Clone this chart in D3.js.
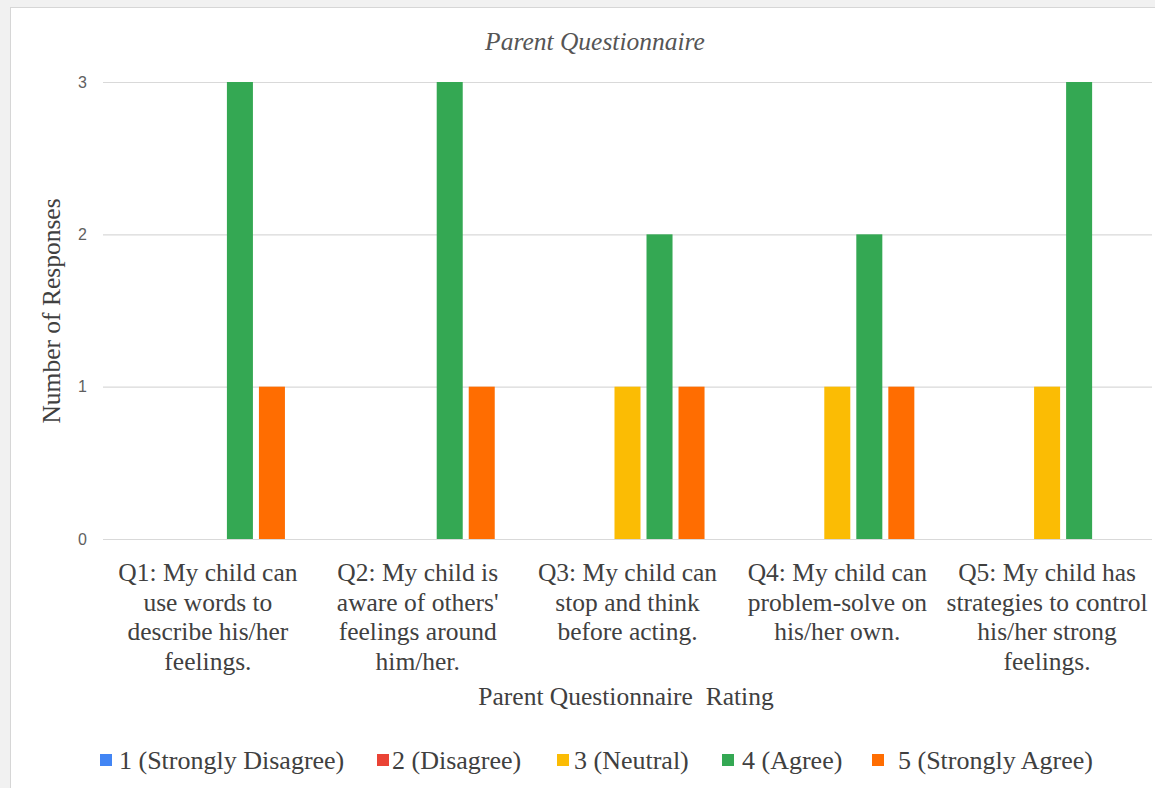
<!DOCTYPE html>
<html>
<head>
<meta charset="utf-8">
<script src="https://cdn.jsdelivr.net/npm/d3@7"></script>
<style>
  html, body { margin: 0; padding: 0; background: #f1f1f1; }
  svg { display: block; }
</style>
</head>
<body>
<svg id="chart" width="1155" height="788"></svg>
<script>
// Survey questions (x categories), each label split into its wrapped lines
const questions = ["Q1", "Q2", "Q3", "Q4", "Q5"];
const questionLines = [
  ["Q1: My child can", "use words to", "describe his/her", "feelings."],
  ["Q2: My child is", "aware of others'", "feelings around", "him/her."],
  ["Q3: My child can", "stop and think", "before acting."],
  ["Q4: My child can", "problem-solve on", "his/her own."],
  ["Q5: My child has", "strategies to control", "his/her strong", "feelings."]
];

// Rating series and their colours
const ratings = ["1 (Strongly Disagree)", "2 (Disagree)", "3 (Neutral)", "4 (Agree)", "5 (Strongly Agree)"];
const ratingColors = ["#4285F4", "#EA4335", "#FBBC04", "#34A853", "#FF6D01"];

// Number of responses per question, one array per rating
const stronglyDisagree = [0, 0, 0, 0, 0];
const disagree         = [0, 0, 0, 0, 0];
const neutral          = [0, 0, 1, 1, 1];
const agree            = [3, 3, 2, 2, 3];
const stronglyAgree    = [1, 1, 1, 1, 0];

const yTicks = [0, 1, 2, 3];

const seriesValues = [stronglyDisagree, disagree, neutral, agree, stronglyAgree];

const svg = d3.select("#chart");
const W = 1155, H = 788;

// card background
svg.append("rect").attr("x", 10.5).attr("y", 7.5).attr("width", W).attr("height", H)
  .attr("fill", "#ffffff").attr("stroke", "#d6d6d6").attr("stroke-width", 1);

const plot = { left: 103, right: 1152, top: 82, bottom: 539 };

const x0 = d3.scaleBand().domain(questions).range([plot.left, plot.right]).padding(0);
const bw = x0.bandwidth();
const groupW = bw * 0.763;
const x1 = d3.scaleBand().domain(ratings)
  .range([(bw - groupW) / 2, (bw + groupW) / 2])
  .paddingInner(0.1875).paddingOuter(0.09375);
const y = d3.scaleLinear().domain([0, 3]).range([plot.bottom, plot.top]);

// gridlines + tick labels
const yAxis = d3.axisLeft(y).tickValues(yTicks).tickFormat(d3.format("d"))
  .tickSize(-(plot.right - plot.left)).tickPadding(16);
const gy = svg.append("g").attr("transform", `translate(${plot.left},0)`).call(yAxis);
gy.select(".domain").remove();
gy.selectAll(".tick line").attr("stroke", "#d9d9d9").attr("stroke-width", 1.2);
gy.selectAll(".tick text")
  .attr("font-family", "'Liberation Sans', Arial, sans-serif")
  .attr("font-size", 16).attr("fill", "#5f5f5f");

// bars
const rows = [];
questions.forEach((q, qi) => {
  ratings.forEach((r, ri) => {
    rows.push({ q, r, ri, v: seriesValues[ri][qi] });
  });
});
svg.append("g").selectAll("rect")
  .data(rows.filter(d => d.v > 0))
  .join("rect")
  .attr("x", d => x0(d.q) + x1(d.r))
  .attr("y", d => y(d.v))
  .attr("width", x1.bandwidth())
  .attr("height", d => y(0) - y(d.v))
  .attr("fill", d => ratingColors[d.ri]);

// category labels
const serif = "'Liberation Serif', 'Times New Roman', serif";
const fs = 25.5;
const textColor = "#404040";
const xl = svg.append("g");
questions.forEach((q, qi) => {
  const cx = x0(q) + bw / 2;
  const t = xl.append("text")
    .attr("font-family", serif).attr("font-size", fs).attr("fill", textColor)
    .attr("text-anchor", "middle");
  questionLines[qi].forEach((line, li) => {
    t.append("tspan").attr("x", cx).attr("y", 581 + li * 29.7).text(line);
  });
});

// title
svg.append("text").attr("x", 595).attr("y", 50)
  .attr("text-anchor", "middle").attr("font-family", serif)
  .attr("font-style", "italic").attr("font-size", fs).attr("fill", "#555555")
  .text("Parent Questionnaire");

// axis titles
svg.append("text").attr("x", 626).attr("y", 705)
  .attr("text-anchor", "middle").attr("font-family", serif)
  .attr("font-size", fs).attr("fill", textColor)
  .style("white-space", "pre")
  .text("Parent Questionnaire  Rating");

svg.append("text")
  .attr("transform", "translate(60,311) rotate(-90)")
  .attr("text-anchor", "middle").attr("font-family", serif)
  .attr("font-size", fs).attr("fill", textColor)
  .text("Number of Responses");

// legend
const legendX = [100, 377, 557, 722, 872];
const legendTextX = [119, 392, 574, 742, 898];
const lg = svg.append("g");
ratings.forEach((r, i) => {
  lg.append("rect").attr("x", legendX[i]).attr("y", 754).attr("width", 12).attr("height", 12)
    .attr("fill", ratingColors[i]);
  lg.append("text").attr("x", legendTextX[i]).attr("y", 769)
    .attr("font-family", serif).attr("font-size", 26).attr("fill", textColor)
    .text(r);
});
</script>
</body>
</html>
